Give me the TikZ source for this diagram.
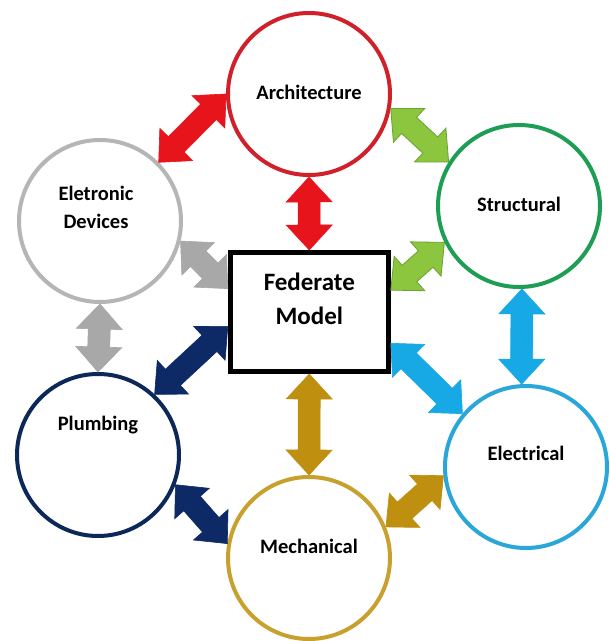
\documentclass[tikz,border=0pt]{standalone}
\usepackage{fontspec}
\setmainfont{Carlito}
\usetikzlibrary{calc}
\definecolor{archC}{HTML}{D0202A}
\definecolor{redA}{HTML}{E8141B}
\definecolor{structC}{HTML}{1D9E54}
\definecolor{greenA}{HTML}{8CC63F}
\definecolor{greenO}{HTML}{6AA232}
\definecolor{elecC}{HTML}{2BA6D9}
\definecolor{blueA}{HTML}{17A8E6}
\definecolor{mechC}{HTML}{C7A02E}
\definecolor{goldA}{HTML}{BF9010}
\definecolor{plumbC}{HTML}{0C2859}
\definecolor{navyA}{HTML}{0E2A66}
\definecolor{edevC}{HTML}{B5B5B5}
\definecolor{grayA}{HTML}{A8A8A8}
\newcommand\arrHL{25pt}
\newcommand\arrHW{23pt}
\newcommand\arrSW{11pt}
\newcommand\dblarrow[3][]{%
  \draw[#1] (#2)
    -- ($(#2)!\arrHL!(#3)!\arrHW!90:(#3)$)
    -- ($(#2)!\arrHL!(#3)!\arrSW!90:(#3)$)
    -- ($(#3)!\arrHL!(#2)!\arrSW!-90:(#2)$)
    -- ($(#3)!\arrHL!(#2)!\arrHW!-90:(#2)$)
    -- (#3)
    -- ($(#3)!\arrHL!(#2)!\arrHW!90:(#2)$)
    -- ($(#3)!\arrHL!(#2)!\arrSW!90:(#2)$)
    -- ($(#2)!\arrHL!(#3)!\arrSW!-90:(#3)$)
    -- ($(#2)!\arrHL!(#3)!\arrHW!-90:(#3)$)
    -- cycle;}
\tikzset{
  disc/.style={circle, draw=#1, line width=4pt, minimum size=162pt, inner sep=0pt},
  lbl/.style={font=\bfseries\fontsize{20.5}{28}\selectfont, align=center, inner sep=0pt},
  fedlbl/.style={font=\bfseries\fontsize{25}{33.5}\selectfont, align=center, inner sep=0pt},
  barr/.style={fill=#1, draw=#1, line width=0.6pt, line join=miter},
}
\begin{document}
\begin{tikzpicture}[x=1pt,y=1pt]
\useasboundingbox[fill=white] (0,0) rectangle (610,641);
\node[disc=archC, label={[lbl,yshift=2pt]center:Architecture}] (arch) at (309,547) {};
\node[disc=structC, label={[lbl,yshift=1.5pt]center:Structural}] (struct) at (519,435) {};
\node[disc=elecC, label={[lbl,yshift=14pt]center:Electrical}] (elec) at (526,174) {};
\node[disc=mechC, label={[lbl,yshift=12pt]center:Mechanical}] (mech) at (309,83) {};
\node[disc=plumbC, label={[lbl,yshift=30pt]center:Plumbing}] (plumb) at (98,186) {};
\node[disc=edevC, label={[lbl,yshift=14pt,xshift=-4pt]center:Eletronic\\Devices}] (edev) at (100,420) {};
\node[draw, line width=5pt, minimum width=158pt, minimum height=119pt, inner sep=0pt,
      label={[fedlbl,yshift=13pt]center:Federate\\Model}] (fed) at (309.3,329) {};
% arrows
\dblarrow[barr=redA]{edev.45}{arch.180}
\dblarrow[barr=redA]{arch.south}{fed.north}
\dblarrow[fill=greenA, draw=greenO, line width=0.8pt]{arch.-10}{struct.148}
\dblarrow[fill=greenA, draw=greenO, line width=0.8pt]{fed.15}{struct.206}
\dblarrow[barr=blueA]{struct.-88}{elec.93}
\dblarrow[barr=blueA]{fed.-21}{elec.140}
\dblarrow[barr=goldA]{mech.22}{elec.186}
\dblarrow[barr=goldA]{fed.south}{mech.north}
\dblarrow[barr=navyA]{plumb.-21}{mech.170}
\dblarrow[barr=navyA]{fed.190}{plumb.47}
\dblarrow[barr=grayA]{edev.south}{plumb.north}
\dblarrow[barr=grayA]{edev.-14}{fed.164}
\end{tikzpicture}
\end{document}
